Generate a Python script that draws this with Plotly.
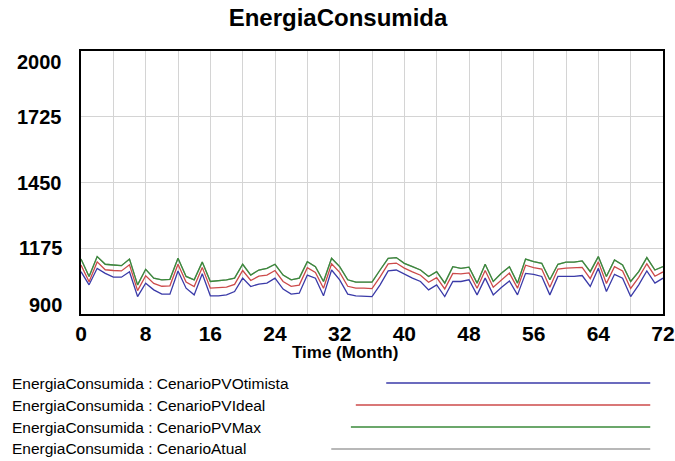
import plotly.graph_objects as go

months = list(range(0, 73))

pv_otimista = [1077, 1022, 1091, 1070, 1054, 1054, 1077, 973, 1029, 1001,
               983, 983, 1080, 1008, 980, 1068, 976, 976, 980, 994,
               1050, 1015, 1025, 1029, 1050, 1004, 983, 987, 1063, 1050,
               976, 1084, 1043, 983, 976, 976, 973, 1022, 1080, 1084,
               1066, 1050, 1036, 1001, 1022, 973, 1036, 1036, 1043, 980,
               1050, 980, 1011, 1038, 980, 1070, 1066, 1057, 980, 1057,
               1057, 1057, 1061, 1015, 1091, 994, 1066, 1050, 973, 1022,
               1080, 1029, 1050]

pv_ideal = [1105, 1035, 1118, 1085, 1082, 1080, 1106, 998, 1060, 1028,
            1016, 1018, 1108, 1034, 1015, 1095, 1008, 1010, 1012, 1024,
            1082, 1040, 1058, 1063, 1082, 1036, 1016, 1021, 1094, 1074,
            1008, 1110, 1074, 1016, 1008, 1008, 1006, 1055, 1110, 1113,
            1092, 1076, 1062, 1033, 1052, 1005, 1070, 1068, 1072, 1008,
            1082, 1012, 1043, 1071, 1008, 1104, 1094, 1088, 1012, 1088,
            1092, 1092, 1095, 1048, 1118, 1028, 1098, 1080, 1007, 1053,
            1110, 1058, 1076]

pv_max = [1130, 1057, 1140, 1108, 1105, 1102, 1130, 1022, 1087, 1050,
          1043, 1045, 1133, 1057, 1043, 1117, 1036, 1038, 1043, 1050,
          1108, 1063, 1084, 1091, 1108, 1063, 1043, 1050, 1119, 1098,
          1036, 1133, 1098, 1043, 1033, 1033, 1033, 1084, 1133, 1136,
          1112, 1098, 1084, 1057, 1077, 1029, 1098, 1091, 1096, 1029,
          1108, 1036, 1070, 1098, 1029, 1130, 1119, 1112, 1043, 1108,
          1117, 1117, 1122, 1077, 1140, 1057, 1126, 1105, 1036, 1077,
          1136, 1084, 1098]

atual = [1130, 1057, 1140, 1108, 1105, 1102, 1130, 1022, 1087, 1050,
         1043, 1045, 1133, 1057, 1043, 1117, 1036, 1038, 1043, 1050,
         1108, 1063, 1084, 1091, 1108, 1063, 1043, 1050, 1119, 1098,
         1036, 1133, 1098, 1043, 1033, 1033, 1033, 1084, 1133, 1136,
         1112, 1098, 1084, 1057, 1077, 1029, 1098, 1091, 1096, 1029,
         1108, 1036, 1070, 1098, 1029, 1130, 1119, 1112, 1043, 1108,
         1117, 1117, 1122, 1077, 1140, 1057, 1126, 1105, 1036, 1077,
         1136, 1084, 1098]

x_grid = list(range(0, 73, 4))
x_labels = ["0", "", "8", "", "16", "", "24", "", "32", "", "40", "", "48", "", "56", "", "64", "", "72"]
y_ticks = [900, 1175, 1450, 1725, 2000]
y_labels = ["900", "1175", "1450", "1725", "2000"]

series_names = [
    "EnergiaConsumida : CenarioPVOtimista",
    "EnergiaConsumida : CenarioPVIdeal",
    "EnergiaConsumida : CenarioPVMax",
    "EnergiaConsumida : CenarioAtual",
]
series_values = [pv_otimista, pv_ideal, pv_max, atual]
series_colors = ["#3a3aa8", "#cc4a4a", "#3a8a3a", "#a0a0a0"]

fig = go.Figure()
# draw in order: gray (bottom), blue, red, green on top
for idx in [3, 0, 1, 2]:
    fig.add_trace(go.Scatter(
        x=months, y=series_values[idx], mode="lines",
        line=dict(color=series_colors[idx], width=1.3),
        name=series_names[idx], showlegend=False, hoverinfo="skip"))

FONT = "Liberation Sans, Arial, sans-serif"
tick_font = dict(family=FONT, size=20, color="black")

W, H = 687, 461
plot_left, plot_top, plot_right, plot_bottom = 81, 51, 674, 314
plot_w, plot_h = plot_right - plot_left, plot_bottom - plot_top

fig.update_layout(
    width=W, height=H,
    margin=dict(l=plot_left, r=W - plot_right, t=plot_top, b=H - plot_bottom),
    paper_bgcolor="white", plot_bgcolor="white",
    title=dict(text="<b>EnergiaConsumida</b>", x=0.492, xanchor="center",
               y=1 - 18 / H, yanchor="middle",
               font=dict(family=FONT, size=24, color="black")),
    xaxis=dict(range=[0, 72], tickmode="array", tickvals=x_grid,
               ticktext=["<b>%s</b>" % t if t else "" for t in x_labels],
               showgrid=True, gridcolor="#d4d4d4", gridwidth=1,
               showline=True, linecolor="black", linewidth=2, mirror=True,
               ticks="", tickfont=dict(family=FONT, size=21, color="black"), zeroline=False),
    yaxis=dict(range=[900, 2000], tickmode="array", tickvals=y_ticks,
               showticklabels=False,
               showgrid=True, gridcolor="#d4d4d4", gridwidth=1,
               showline=True, linecolor="black", linewidth=2, mirror=True,
               ticks="", zeroline=False),
)

# y tick labels: the extreme labels sit slightly inside the frame, as in the original
label_shift = {900: 9, 2000: -11}
for v, t in zip(y_ticks, y_labels):
    fig.add_annotation(
        x=0, y=v, xref="paper", yref="y", xanchor="right", yanchor="middle",
        xshift=-17, yshift=label_shift.get(v, 0), showarrow=False,
        text="<b>%s</b>" % t, font=tick_font)

# x axis title (offset left of the plot centre, as in the original)
fig.add_annotation(
    x=(350 - plot_left) / plot_w, y=(plot_bottom - 352) / plot_h,
    xref="paper", yref="paper", xanchor="center", yanchor="middle",
    showarrow=False, text="<b>Time (Month)</b>",
    font=dict(family=FONT, size=17, color="black"))

# custom legend: text then a line sample
row_y = [383, 405, 427, 449]
line_start = [392, 361, 356, 336]
line_end = 661
for i in range(4):
    py = (plot_bottom - row_y[i]) / plot_h
    fig.add_annotation(
        x=(9 - plot_left) / plot_w, y=py, xref="paper", yref="paper",
        xanchor="left", yanchor="middle", showarrow=False,
        text=series_names[i],
        font=dict(family=FONT, size=15.5, color="black"))
    fig.add_shape(
        type="line", xref="paper", yref="paper",
        x0=(line_start[i] - plot_left) / plot_w, x1=(line_end - plot_left) / plot_w,
        y0=py, y1=py, line=dict(color=series_colors[i], width=1.5))

fig.write_html("out.html", config={"displayModeBar": False},
               post_script="document.body.style.margin='0';document.body.style.overflow='hidden';")
